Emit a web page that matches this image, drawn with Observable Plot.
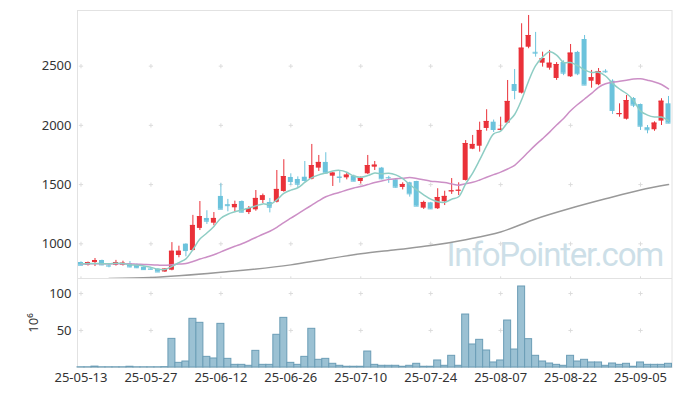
<!DOCTYPE html>
<html><head><meta charset="utf-8">
<script src="https://cdn.jsdelivr.net/npm/d3@7"></script>
<script src="https://cdn.jsdelivr.net/npm/@observablehq/plot@0.6"></script>
<style>
body{margin:0;background:#fff;}
#chart{width:680px;height:396px;overflow:hidden;}
#chart svg{display:block;}
</style></head><body><div id="chart"></div>
<script>
const dates = [
"25-05-13","25-05-14","25-05-15","25-05-16","25-05-19","25-05-20","25-05-21","25-05-22","25-05-23","25-05-26",
"25-05-27","25-05-28","25-05-29","25-05-30","25-06-02","25-06-04","25-06-05","25-06-09","25-06-10","25-06-11",
"25-06-12","25-06-13","25-06-16","25-06-17","25-06-18","25-06-19","25-06-20","25-06-23","25-06-24","25-06-25",
"25-06-26","25-06-27","25-06-30","25-07-01","25-07-02","25-07-03","25-07-04","25-07-07","25-07-08","25-07-09",
"25-07-10","25-07-11","25-07-14","25-07-15","25-07-16","25-07-17","25-07-18","25-07-21","25-07-22","25-07-23",
"25-07-24","25-07-25","25-07-28","25-07-29","25-07-30","25-07-31","25-08-01","25-08-04","25-08-05","25-08-06",
"25-08-07","25-08-08","25-08-11","25-08-12","25-08-13","25-08-14","25-08-18","25-08-19","25-08-20","25-08-21",
"25-08-22","25-08-25","25-08-26","25-08-27","25-08-28","25-08-29","25-09-01","25-09-02","25-09-03","25-09-04",
"25-09-05","25-09-08","25-09-09","25-09-10","25-09-11"];
const opens = [842,819,842,859,815,819,819,831,818,802, 788,786,762,777,901,997,943,1130,1214,1174,
1400,1330,1304,1357,1264,1287,1366,1349,1351,1442, 1560,1543,1562,1546,1639,1687,1571,1564,1557,1571,
1526,1591,1647,1639,1559,1540,1476,1515,1526,1301, 1346,1296,1355,1440,1446,1535,1799,1824,1974,2027,
1960,2019,2345,2272,2660,2617,2525,2483,2396,2531, 2410,2616,2725,2373,2343,2457,2373,2090,2052,2227,
2176,1980,1963,2036,2182];
const highs = [848,846,876,862,825,860,853,850,830,808, 795,790,789,1010,980,1000,1240,1357,1279,1264,
1507,1375,1360,1362,1315,1450,1420,1383,1619,1710, 1591,1565,1695,1839,1746,1769,1600,1619,1600,1580,
1565,1746,1695,1645,1570,1545,1515,1520,1528,1360, 1350,1465,1444,1551,1515,1872,1915,2027,2132,2045,
2069,2379,2472,2858,2928,2785,2618,2633,2530,2545, 2683,2625,2759,2464,2480,2470,2385,2182,2252,2235,
2180,1999,2030,2225,2244];
const lows = [815,812,808,815,797,812,812,797,790,776, 778,760,758,772,882,890,940,1112,1163,1152,
1290,1270,1270,1262,1247,1275,1340,1261,1345,1435, 1492,1475,1520,1540,1611,1590,1484,1512,1540,1525,
1505,1585,1619,1540,1510,1470,1455,1394,1315,1290, 1290,1290,1323,1417,1408,1530,1795,1774,1951,1940,
1955,2015,2216,2265,2647,2576,2492,2466,2380,2420, 2405,2420,2340,2314,2335,2440,2092,2069,2045,2150,
1957,1929,1950,1999,2015];
const closes = [819,842,859,822,812,842,836,805,798,782, 785,762,786,937,937,943,1155,1230,1191,1214,
1292,1322,1332,1267,1298,1383,1405,1309,1459,1568, 1526,1503,1535,1661,1687,1597,1597,1560,1580,1529,
1552,1661,1664,1549,1557,1478,1501,1422,1318,1349, 1295,1391,1400,1447,1452,1847,1839,1957,2033,1965,
1967,2202,2295,2652,2759,2610,2563,2525,2514,2441, 2610,2436,2340,2402,2455,2452,2126,2100,2210,2171,
1993,1963,2019,2204,2019];
const volumes = [0.3,0.3,1.2,0.3,0.3,0.3,0.3,1.0,0.3,0.3, 0.3,0.3,0.5,38.7,6.3,8.1,65.8,60.4,14.4,12.2,
59,11.7,3.6,3.6,2.3,22.5,3.6,3.6,44.2,67.1, 6.3,3.6,14.4,52.3,10.4,11.7,5.0,2.3,1.0,1.0,
1.0,21.6,3.6,2.3,2.3,2.3,1.0,2.3,5.0,1.0, 1.0,9.5,2.3,15.8,2.3,71.6,31.1,37.4,23,6.8,
9.5,63.5,24.3,109.5,38.3,15.8,8.1,5.4,3.6,2.3, 15.8,8.1,10.4,6.8,6.8,2.3,5.4,3.6,5.0,1.0,
6.8,3.6,3.6,3.6,5.0];
const ma5 = [832,833,834,832,831,835,834,823,819,813, 801,786,783,810,841,873,952,1040,1091,1147,
1216,1250,1270,1285,1302,1320,1337,1332,1371,1425, 1453,1473,1518,1559,1582,1597,1615,1620,1604,1573,
1563,1576,1597,1591,1596,1582,1550,1501,1455,1414, 1377,1355,1351,1376,1397,1507,1597,1708,1826,1928,
1952,2025,2092,2216,2375,2504,2576,2622,2594,2531, 2531,2505,2468,2446,2449,2417,2355,2307,2269,2212,
2120,2087,2071,2070,2040];
const ma20 = [829,830,832,831,830,831,831,830,828,826, 824,820,818,823,829,834,851,871,889,908,
932,956,979,1001,1026,1053,1081,1106,1139,1179, 1216,1253,1290,1327,1364,1397,1419,1435,1455,1471,
1483,1500,1517,1531,1544,1549,1553,1559,1552,1541, 1529,1524,1517,1506,1495,1507,1519,1539,1562,1584,
1605,1632,1663,1718,1778,1835,1888,1943,2003,2058, 2123,2176,2223,2270,2321,2351,2365,2372,2381,2392,
2393,2381,2367,2345,2308];
const maLongDates = ["25-05-19","25-05-27","25-06-12","25-06-26","25-07-03","25-07-10","25-07-17","25-07-24",
"25-07-31","25-08-07","25-08-14","25-08-22","25-08-29","25-09-05","25-09-11"];
const maLongValues = [708,716,760,822,870,915,950,985,1035,1100,1210,1300,1380,1455,1500];
const tickDates = ["25-05-13","25-05-27","25-06-12","25-06-26","25-07-10","25-07-24","25-08-07","25-08-22","25-09-05"];
const priceTicks = [1000,1500,2000,2500];
const volumeTicks = [50,100];
const watermark = "InfoPointer.com";
const volumeLabel = "10\u2076";

const candles = dates.map((date,i)=>({date, open:opens[i], high:highs[i], low:lows[i], close:closes[i]}));
const ups = candles.filter(d=>d.close>=d.open);
const downs = candles.filter(d=>d.close<d.open);
const vol = dates.map((date,i)=>({date, v:volumes[i]}));
const m5 = dates.map((date,i)=>({date, v:ma5[i]}));
const m20 = dates.map((date,i)=>({date, v:ma20[i]}));
const mL = maLongDates.map((date,i)=>({date, v:maLongValues[i]}));
const red = "#ea3139", blue = "#6cc3dc", frameColor = "#e2e2e2", gridColor = "#dcdcdc";
const grid = ys => tickDates.flatMap(d => ys.map(v => ({date:d, v})));
const style = {fontFamily:"'Noto Sans', sans-serif", fontSize:"13px", color:"#333", background:"transparent"};
const crossOpts = {x:"date", y:"v", symbol:"plus", r:1.5, fill:"none", stroke:gridColor, strokeWidth:1};

function candleMarks(data, color){
  return [
    Plot.ruleX(data, {x:"date", y1:"low", y2:"high", stroke:color, strokeWidth:1}),
    Plot.barY(data, {x:"date", y1:"open", y2:"close", fill:color, insetLeft:1, insetRight:1}),
    Plot.tickY(data, {x:"date", y:"close", stroke:color, strokeWidth:1, insetLeft:1, insetRight:1})
  ];
}

const price = Plot.plot({
  width:680, height:278, marginTop:10, marginBottom:0, marginLeft:77, marginRight:8.5,
  style,
  x:{type:"band", domain:dates, padding:0, axis:null},
  y:{domain:[707,2970], ticks:priceTicks, tickFormat:d3.format("d"), tickSize:0, tickPadding:6, label:null},
  marks:[
    Plot.text([watermark], {text:d=>d, frameAnchor:"bottom-right", textAnchor:"end", lineAnchor:"bottom",
      dx:-9, dy:-13, fontSize:33, fontFamily:"Roboto", fill:"#cddfe8"}),
    Plot.dot(grid(priceTicks), crossOpts),
    Plot.dot(grid([707]), crossOpts),
    Plot.frame({stroke:frameColor}),
    ...candleMarks(ups, red),
    ...candleMarks(downs, blue),
    Plot.line(mL, {x:"date", y:"v", stroke:"#999", strokeWidth:1.5, curve:"monotone-x"}),
    Plot.line(m20, {x:"date", y:"v", stroke:"#cc8fc6", strokeWidth:1.5, curve:"catmull-rom"}),
    Plot.line(m5, {x:"date", y:"v", stroke:"#8ecdc4", strokeWidth:1.5, curve:"catmull-rom"})
  ]
});

const volume = Plot.plot({
  width:680, height:118, marginTop:0, marginBottom:29, marginLeft:77, marginRight:8.5,
  style,
  x:{type:"band", domain:dates, padding:0, ticks:tickDates, tickSize:0, tickPadding:5, label:null},
  y:{domain:[0,120.3], ticks:volumeTicks, tickFormat:d3.format("d"), tickSize:0, tickPadding:6, label:null},
  marks:[
    Plot.dot(grid(volumeTicks), crossOpts),
    Plot.frame({stroke:frameColor}),
    Plot.barY(vol, {x:"date", y:"v", fill:"#9bc1d3", stroke:"#6b9db6", strokeWidth:1}),
    Plot.text([volumeLabel], {text:d=>d, frameAnchor:"left", dx:-44, rotate:-90, textAnchor:"middle", lineAnchor:"middle", fontSize:13, fill:"#333"})
  ]
});

const root = document.getElementById("chart");
root.appendChild(price);
root.appendChild(volume);
d3.select(price).selectAll("text").filter(function(){return this.textContent===watermark;}).style("letter-spacing","-1.2px");
</script></body></html>
